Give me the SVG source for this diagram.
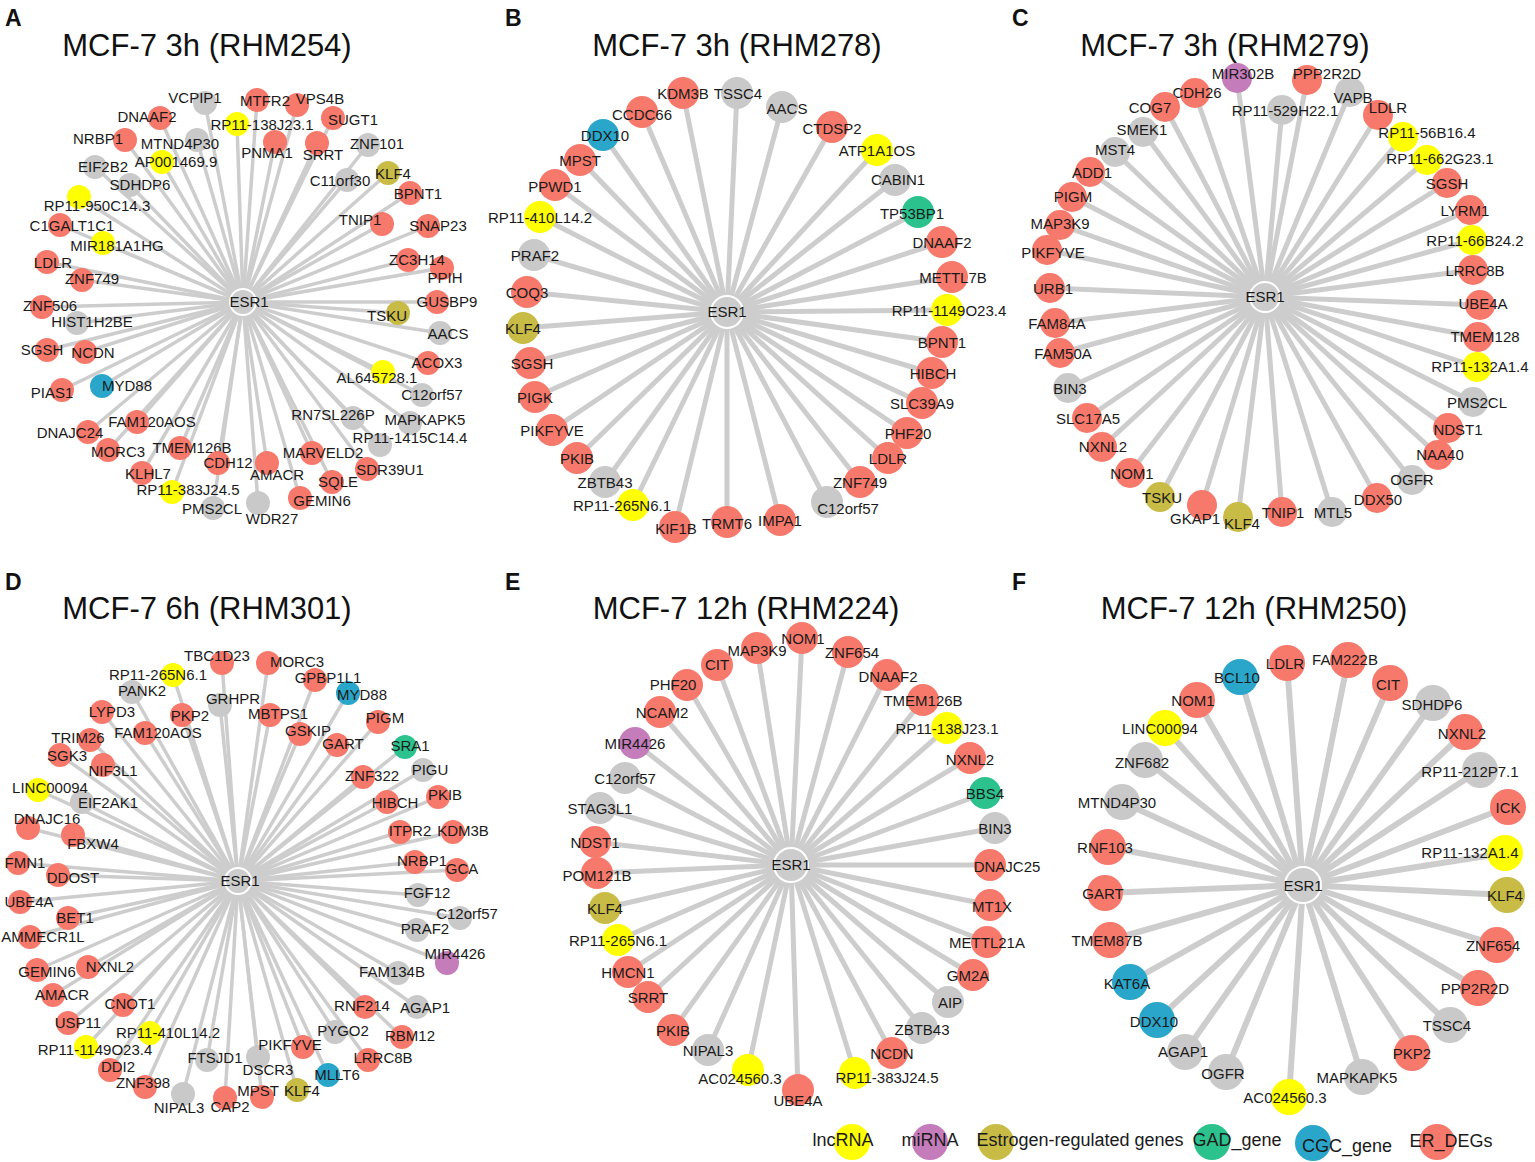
<svg xmlns="http://www.w3.org/2000/svg" width="1535" height="1162" viewBox="0 0 1535 1162">
<style>
text{font-family:"Liberation Sans",Arial,sans-serif;fill:#1a1a1a;text-anchor:middle;dominant-baseline:central;font-size:15px}
.r{fill:#F7796B}.g{fill:#C9C9C9}.y{fill:#FFFF00}.o{fill:#C8BC46}.n{fill:#2CC28E}.b{fill:#2AA6CA}.p{fill:#C47CBB}
.ctr{fill:#CCCCCC;stroke:#FFFFFF;stroke-width:2}
.e line{stroke:#CDCDCD;stroke-linecap:butt}
.t{font-size:31px;fill:#111;dominant-baseline:auto}
.L{font-size:23px;font-weight:bold;fill:#111;text-anchor:start;dominant-baseline:auto}
.lg{font-size:18px}
</style>
<rect width="1535" height="1162" fill="#FFFFFF"/>

<!-- Titles -->
<text class="L" x="5" y="26">A</text>
<text class="L" x="505" y="26">B</text>
<text class="L" x="1012" y="26">C</text>
<text class="L" x="5" y="590">D</text>
<text class="L" x="505" y="590">E</text>
<text class="L" x="1012" y="590">F</text>
<text class="t" x="207" y="56">MCF-7 3h (RHM254)</text>
<text class="t" x="737" y="56">MCF-7 3h (RHM278)</text>
<text class="t" x="1225" y="56">MCF-7 3h (RHM279)</text>
<text class="t" x="207" y="619">MCF-7 6h (RHM301)</text>
<text class="t" x="746" y="619">MCF-7 12h (RHM224)</text>
<text class="t" x="1254" y="619">MCF-7 12h (RHM250)</text>

<!-- Panel A -->
<g id="panelA">
<g id="a-edges" class="e" stroke-width="3.5">
<line x1="243" y1="302" x2="205" y2="103"/><line x1="243" y1="302" x2="257" y2="100"/><line x1="243" y1="302" x2="297" y2="105"/><line x1="243" y1="302" x2="160" y2="118"/><line x1="243" y1="302" x2="237" y2="124"/><line x1="243" y1="302" x2="333" y2="118"/><line x1="243" y1="302" x2="125" y2="140"/><line x1="243" y1="302" x2="197" y2="140"/><line x1="243" y1="302" x2="275" y2="142"/><line x1="243" y1="302" x2="317" y2="143"/><line x1="243" y1="302" x2="368" y2="145"/><line x1="243" y1="302" x2="95" y2="167"/><line x1="243" y1="302" x2="162" y2="162"/><line x1="243" y1="302" x2="130" y2="185"/><line x1="243" y1="302" x2="347" y2="180"/><line x1="243" y1="302" x2="388" y2="173"/><line x1="243" y1="302" x2="410" y2="193"/><line x1="243" y1="302" x2="79" y2="197"/><line x1="243" y1="302" x2="60" y2="225"/><line x1="243" y1="302" x2="382" y2="224"/><line x1="243" y1="302" x2="428" y2="226"/><line x1="243" y1="302" x2="103" y2="243"/><line x1="243" y1="302" x2="47" y2="262"/><line x1="243" y1="302" x2="408" y2="260"/><line x1="243" y1="302" x2="442" y2="268"/><line x1="243" y1="302" x2="82" y2="280"/><line x1="243" y1="302" x2="42" y2="307"/><line x1="243" y1="302" x2="77" y2="323"/><line x1="243" y1="302" x2="437" y2="302"/><line x1="243" y1="302" x2="398" y2="313"/><line x1="243" y1="302" x2="440" y2="333"/><line x1="243" y1="302" x2="47" y2="350"/><line x1="243" y1="302" x2="85" y2="352"/><line x1="243" y1="302" x2="428" y2="363"/><line x1="243" y1="302" x2="383" y2="372"/><line x1="243" y1="302" x2="62" y2="390"/><line x1="243" y1="302" x2="102" y2="386"/><line x1="243" y1="302" x2="422" y2="395"/><line x1="243" y1="302" x2="353" y2="418"/><line x1="243" y1="302" x2="410" y2="423"/><line x1="243" y1="302" x2="137" y2="422"/><line x1="243" y1="302" x2="88" y2="432"/><line x1="243" y1="302" x2="380" y2="445"/><line x1="243" y1="302" x2="108" y2="450"/><line x1="243" y1="302" x2="180" y2="448"/><line x1="243" y1="302" x2="312" y2="453"/><line x1="243" y1="302" x2="218" y2="463"/><line x1="243" y1="302" x2="267" y2="463"/><line x1="243" y1="302" x2="367" y2="469"/><line x1="243" y1="302" x2="142" y2="473"/><line x1="243" y1="302" x2="332" y2="482"/><line x1="243" y1="302" x2="172" y2="492"/><line x1="243" y1="302" x2="300" y2="498"/><line x1="243" y1="302" x2="213" y2="508"/><line x1="243" y1="302" x2="258" y2="503"/>
</g>
<g id="a-VCPIP1"><circle class="g" cx="205" cy="103" r="12"/><text x="195" y="97">VCPIP1</text></g>
<g id="a-VPS4B"><circle class="r" cx="297" cy="105" r="12"/><text x="320" y="98">VPS4B</text></g>
<g id="a-MTFR2"><circle class="r" cx="257" cy="100" r="12"/><text x="265" y="100">MTFR2</text></g>
<g id="a-DNAAF2"><circle class="r" cx="160" cy="118" r="12"/><text x="147" y="116">DNAAF2</text></g>
<g id="a-RP11-138J23.1"><circle class="y" cx="237" cy="124" r="12"/><text x="262" y="124">RP11-138J23.1</text></g>
<g id="a-SUGT1"><circle class="r" cx="333" cy="118" r="12"/><text x="353" y="119">SUGT1</text></g>
<g id="a-NRBP1"><circle class="r" cx="125" cy="140" r="12"/><text x="98" y="138">NRBP1</text></g>
<g id="a-MTND4P30"><circle class="g" cx="197" cy="140" r="12"/><text x="180" y="143">MTND4P30</text></g>
<g id="a-PNMA1"><circle class="r" cx="275" cy="142" r="12"/><text x="267" y="152">PNMA1</text></g>
<g id="a-SRRT"><circle class="r" cx="317" cy="143" r="12"/><text x="323" y="154">SRRT</text></g>
<g id="a-ZNF101"><circle class="g" cx="368" cy="145" r="12"/><text x="377" y="143">ZNF101</text></g>
<g id="a-EIF2B2"><circle class="g" cx="95" cy="167" r="12"/><text x="103" y="166">EIF2B2</text></g>
<g id="a-AP001469.9"><circle class="y" cx="162" cy="162" r="12"/><text x="176" y="161">AP001469.9</text></g>
<g id="a-SDHDP6"><circle class="g" cx="130" cy="185" r="12"/><text x="140" y="184">SDHDP6</text></g>
<g id="a-C11orf30"><circle class="g" cx="347" cy="180" r="12"/><text x="340" y="180">C11orf30</text></g>
<g id="a-KLF4"><circle class="o" cx="388" cy="173" r="12"/><text x="393" y="173">KLF4</text></g>
<g id="a-BPNT1"><circle class="r" cx="410" cy="193" r="12"/><text x="418" y="193">BPNT1</text></g>
<g id="a-RP11-950C14.3"><circle class="y" cx="79" cy="197" r="12"/><text x="97" y="205">RP11-950C14.3</text></g>
<g id="a-C1GALT1C1"><circle class="r" cx="60" cy="225" r="12"/><text x="72" y="225">C1GALT1C1</text></g>
<g id="a-TNIP1"><circle class="r" cx="382" cy="224" r="12"/><text x="360" y="219">TNIP1</text></g>
<g id="a-SNAP23"><circle class="r" cx="428" cy="226" r="12"/><text x="438" y="225">SNAP23</text></g>
<g id="a-MIR181A1HG"><circle class="y" cx="103" cy="243" r="12"/><text x="117" y="245">MIR181A1HG</text></g>
<g id="a-LDLR"><circle class="r" cx="47" cy="262" r="12"/><text x="53" y="262">LDLR</text></g>
<g id="a-PPIH"><circle class="r" cx="442" cy="268" r="12"/><text x="445" y="277">PPIH</text></g>
<g id="a-ZC3H14"><circle class="r" cx="408" cy="260" r="12"/><text x="417" y="259">ZC3H14</text></g>
<g id="a-ZNF749"><circle class="r" cx="82" cy="280" r="12"/><text x="92" y="278">ZNF749</text></g>
<g id="a-ZNF506"><circle class="r" cx="42" cy="307" r="12"/><text x="50" y="305">ZNF506</text></g>
<g id="a-HIST1H2BE"><circle class="g" cx="77" cy="323" r="12"/><text x="92" y="321">HIST1H2BE</text></g>
<g id="a-GUSBP9"><circle class="r" cx="437" cy="302" r="12"/><text x="447" y="301">GUSBP9</text></g>
<g id="a-TSKU"><circle class="o" cx="398" cy="313" r="12"/><text x="387" y="315">TSKU</text></g>
<g id="a-AACS"><circle class="g" cx="440" cy="333" r="12"/><text x="448" y="333">AACS</text></g>
<g id="a-SGSH"><circle class="r" cx="47" cy="350" r="12"/><text x="42" y="349">SGSH</text></g>
<g id="a-NCDN"><circle class="r" cx="85" cy="352" r="12"/><text x="93" y="352">NCDN</text></g>
<g id="a-ACOX3"><circle class="r" cx="428" cy="363" r="12"/><text x="437" y="362">ACOX3</text></g>
<g id="a-AL645728.1"><circle class="y" cx="383" cy="372" r="12"/><text x="377" y="377">AL645728.1</text></g>
<g id="a-PIAS1"><circle class="r" cx="62" cy="390" r="12"/><text x="52" y="392">PIAS1</text></g>
<g id="a-MYD88"><circle class="b" cx="102" cy="386" r="12"/><text x="127" y="385">MYD88</text></g>
<g id="a-C12orf57"><circle class="g" cx="422" cy="395" r="12"/><text x="432" y="394">C12orf57</text></g>
<g id="a-RN7SL226P"><circle class="g" cx="353" cy="418" r="12"/><text x="333" y="414">RN7SL226P</text></g>
<g id="a-MAPKAPK5"><circle class="g" cx="410" cy="423" r="12"/><text x="425" y="419">MAPKAPK5</text></g>
<g id="a-FAM120AOS"><circle class="r" cx="137" cy="422" r="12"/><text x="152" y="421">FAM120AOS</text></g>
<g id="a-DNAJC24"><circle class="r" cx="88" cy="432" r="12"/><text x="70" y="432">DNAJC24</text></g>
<g id="a-RP11-1415C14.4"><circle class="g" cx="380" cy="445" r="12"/><text x="410" y="437">RP11-1415C14.4</text></g>
<g id="a-MORC3"><circle class="r" cx="108" cy="450" r="12"/><text x="118" y="451">MORC3</text></g>
<g id="a-TMEM126B"><circle class="r" cx="180" cy="448" r="12"/><text x="192" y="447">TMEM126B</text></g>
<g id="a-MARVELD2"><circle class="r" cx="312" cy="453" r="12"/><text x="323" y="452">MARVELD2</text></g>
<g id="a-CDH12"><circle class="r" cx="218" cy="463" r="12"/><text x="228" y="462">CDH12</text></g>
<g id="a-AMACR"><circle class="r" cx="267" cy="463" r="12"/><text x="277" y="474">AMACR</text></g>
<g id="a-SDR39U1"><circle class="r" cx="367" cy="469" r="12"/><text x="390" y="469">SDR39U1</text></g>
<g id="a-KLHL7"><circle class="r" cx="142" cy="473" r="12"/><text x="148" y="473">KLHL7</text></g>
<g id="a-SQLE"><circle class="r" cx="332" cy="482" r="12"/><text x="338" y="481">SQLE</text></g>
<g id="a-RP11-383J24.5"><circle class="y" cx="172" cy="492" r="12"/><text x="188" y="489">RP11-383J24.5</text></g>
<g id="a-GEMIN6"><circle class="r" cx="300" cy="498" r="12"/><text x="322" y="500">GEMIN6</text></g>
<g id="a-PMS2CL"><circle class="g" cx="213" cy="508" r="12"/><text x="212" y="508">PMS2CL</text></g>
<g id="a-WDR27"><circle class="g" cx="258" cy="503" r="12"/><text x="272" y="518">WDR27</text></g>
<g id="a-ESR1"><circle class="ctr" cx="243" cy="302" r="13"/><text x="249" y="301">ESR1</text></g>
</g>

<!-- Panel B -->
<g id="panelB">
<g id="b-edges" class="e" stroke-width="5">
<line x1="727" y1="312" x2="683" y2="93"/><line x1="727" y1="312" x2="737" y2="93"/><line x1="727" y1="312" x2="782" y2="107"/><line x1="727" y1="312" x2="642" y2="112"/><line x1="727" y1="312" x2="832" y2="127"/><line x1="727" y1="312" x2="603" y2="135"/><line x1="727" y1="312" x2="877" y2="150"/><line x1="727" y1="312" x2="580" y2="160"/><line x1="727" y1="312" x2="895" y2="180"/><line x1="727" y1="312" x2="555" y2="185"/><line x1="727" y1="312" x2="540" y2="217"/><line x1="727" y1="312" x2="918" y2="212"/><line x1="727" y1="312" x2="942" y2="242"/><line x1="727" y1="312" x2="534" y2="255"/><line x1="727" y1="312" x2="952" y2="277"/><line x1="727" y1="312" x2="527" y2="292"/><line x1="727" y1="312" x2="947" y2="310"/><line x1="727" y1="312" x2="523" y2="328"/><line x1="727" y1="312" x2="942" y2="342"/><line x1="727" y1="312" x2="530" y2="363"/><line x1="727" y1="312" x2="932" y2="373"/><line x1="727" y1="312" x2="535" y2="397"/><line x1="727" y1="312" x2="922" y2="403"/><line x1="727" y1="312" x2="552" y2="430"/><line x1="727" y1="312" x2="907" y2="433"/><line x1="727" y1="312" x2="577" y2="458"/><line x1="727" y1="312" x2="888" y2="458"/><line x1="727" y1="312" x2="605" y2="482"/><line x1="727" y1="312" x2="860" y2="482"/><line x1="727" y1="312" x2="633" y2="505"/><line x1="727" y1="312" x2="827" y2="502"/><line x1="727" y1="312" x2="675" y2="527"/><line x1="727" y1="312" x2="727" y2="522"/><line x1="727" y1="312" x2="780" y2="520"/>
</g>
<g id="b-KDM3B"><circle class="r" cx="683" cy="93" r="16"/><text x="683" y="93">KDM3B</text></g>
<g id="b-TSSC4"><circle class="g" cx="737" cy="93" r="16"/><text x="738" y="93">TSSC4</text></g>
<g id="b-AACS"><circle class="g" cx="782" cy="107" r="16"/><text x="787" y="108">AACS</text></g>
<g id="b-CCDC66"><circle class="r" cx="642" cy="112" r="16"/><text x="642" y="114">CCDC66</text></g>
<g id="b-CTDSP2"><circle class="r" cx="832" cy="127" r="16"/><text x="832" y="128">CTDSP2</text></g>
<g id="b-DDX10"><circle class="b" cx="603" cy="135" r="16"/><text x="605" y="135">DDX10</text></g>
<g id="b-ATP1A1OS"><circle class="y" cx="877" cy="150" r="16"/><text x="877" y="150">ATP1A1OS</text></g>
<g id="b-MPST"><circle class="r" cx="580" cy="160" r="16"/><text x="580" y="160">MPST</text></g>
<g id="b-CABIN1"><circle class="g" cx="895" cy="180" r="16"/><text x="898" y="179">CABIN1</text></g>
<g id="b-PPWD1"><circle class="r" cx="555" cy="185" r="16"/><text x="555" y="186">PPWD1</text></g>
<g id="b-RP11-410L14.2"><circle class="y" cx="540" cy="217" r="16"/><text x="540" y="217">RP11-410L14.2</text></g>
<g id="b-TP53BP1"><circle class="n" cx="918" cy="212" r="16"/><text x="912" y="213">TP53BP1</text></g>
<g id="b-DNAAF2"><circle class="r" cx="942" cy="242" r="16"/><text x="942" y="242">DNAAF2</text></g>
<g id="b-PRAF2"><circle class="g" cx="534" cy="255" r="16"/><text x="535" y="255">PRAF2</text></g>
<g id="b-METTL7B"><circle class="r" cx="952" cy="277" r="16"/><text x="953" y="277">METTL7B</text></g>
<g id="b-COQ3"><circle class="r" cx="527" cy="292" r="16"/><text x="527" y="292">COQ3</text></g>
<g id="b-RP11-1149O23.4"><circle class="y" cx="947" cy="310" r="16"/><text x="949" y="310">RP11-1149O23.4</text></g>
<g id="b-KLF4"><circle class="o" cx="523" cy="328" r="16"/><text x="523" y="328">KLF4</text></g>
<g id="b-BPNT1"><circle class="r" cx="942" cy="342" r="16"/><text x="942" y="342">BPNT1</text></g>
<g id="b-SGSH"><circle class="r" cx="530" cy="363" r="16"/><text x="532" y="363">SGSH</text></g>
<g id="b-HIBCH"><circle class="r" cx="932" cy="373" r="16"/><text x="933" y="373">HIBCH</text></g>
<g id="b-PIGK"><circle class="r" cx="535" cy="397" r="16"/><text x="535" y="397">PIGK</text></g>
<g id="b-SLC39A9"><circle class="r" cx="922" cy="403" r="16"/><text x="922" y="403">SLC39A9</text></g>
<g id="b-PIKFYVE"><circle class="r" cx="552" cy="430" r="16"/><text x="552" y="430">PIKFYVE</text></g>
<g id="b-PHF20"><circle class="r" cx="907" cy="433" r="16"/><text x="908" y="433">PHF20</text></g>
<g id="b-PKIB"><circle class="r" cx="577" cy="458" r="16"/><text x="577" y="458">PKIB</text></g>
<g id="b-LDLR"><circle class="r" cx="888" cy="458" r="16"/><text x="888" y="458">LDLR</text></g>
<g id="b-ZBTB43"><circle class="g" cx="605" cy="482" r="16"/><text x="605" y="482">ZBTB43</text></g>
<g id="b-ZNF749"><circle class="r" cx="860" cy="482" r="16"/><text x="860" y="482">ZNF749</text></g>
<g id="b-RP11-265N6.1"><circle class="y" cx="633" cy="505" r="16"/><text x="622" y="505">RP11-265N6.1</text></g>
<g id="b-C12orf57"><circle class="g" cx="827" cy="502" r="16"/><text x="848" y="508">C12orf57</text></g>
<g id="b-KIF1B"><circle class="r" cx="675" cy="527" r="16"/><text x="676" y="528">KIF1B</text></g>
<g id="b-TRMT6"><circle class="r" cx="727" cy="522" r="16"/><text x="727" y="523">TRMT6</text></g>
<g id="b-IMPA1"><circle class="r" cx="780" cy="520" r="16"/><text x="780" y="520">IMPA1</text></g>
<g id="b-ESR1"><circle class="ctr" cx="727" cy="312" r="16"/><text x="727" y="311">ESR1</text></g>
</g>

<!-- Panel C -->
<g id="panelC">
<g id="c-edges" class="e" stroke-width="5">
<line x1="1265" y1="297" x2="1237" y2="78"/><line x1="1265" y1="297" x2="1307" y2="80"/><line x1="1265" y1="297" x2="1195" y2="93"/><line x1="1265" y1="297" x2="1350" y2="92"/><line x1="1265" y1="297" x2="1165" y2="107"/><line x1="1265" y1="297" x2="1282" y2="110"/><line x1="1265" y1="297" x2="1378" y2="115"/><line x1="1265" y1="297" x2="1143" y2="132"/><line x1="1265" y1="297" x2="1403" y2="137"/><line x1="1265" y1="297" x2="1115" y2="152"/><line x1="1265" y1="297" x2="1427" y2="160"/><line x1="1265" y1="297" x2="1090" y2="172"/><line x1="1265" y1="297" x2="1447" y2="183"/><line x1="1265" y1="297" x2="1072" y2="197"/><line x1="1265" y1="297" x2="1470" y2="210"/><line x1="1265" y1="297" x2="1060" y2="225"/><line x1="1265" y1="297" x2="1472" y2="240"/><line x1="1265" y1="297" x2="1047" y2="250"/><line x1="1265" y1="297" x2="1473" y2="270"/><line x1="1265" y1="297" x2="1050" y2="288"/><line x1="1265" y1="297" x2="1480" y2="305"/><line x1="1265" y1="297" x2="1055" y2="323"/><line x1="1265" y1="297" x2="1478" y2="337"/><line x1="1265" y1="297" x2="1060" y2="353"/><line x1="1265" y1="297" x2="1477" y2="367"/><line x1="1265" y1="297" x2="1068" y2="388"/><line x1="1265" y1="297" x2="1473" y2="402"/><line x1="1265" y1="297" x2="1087" y2="418"/><line x1="1265" y1="297" x2="1448" y2="428"/><line x1="1265" y1="297" x2="1102" y2="447"/><line x1="1265" y1="297" x2="1438" y2="455"/><line x1="1265" y1="297" x2="1130" y2="473"/><line x1="1265" y1="297" x2="1412" y2="480"/><line x1="1265" y1="297" x2="1160" y2="497"/><line x1="1265" y1="297" x2="1377" y2="498"/><line x1="1265" y1="297" x2="1202" y2="505"/><line x1="1265" y1="297" x2="1238" y2="517"/><line x1="1265" y1="297" x2="1282" y2="512"/><line x1="1265" y1="297" x2="1332" y2="512"/>
</g>
<g id="c-MIR302B"><circle class="p" cx="1237" cy="78" r="15"/><text x="1243" y="73">MIR302B</text></g>
<g id="c-VAPB"><circle class="g" cx="1350" cy="92" r="15"/><text x="1353" y="97">VAPB</text></g>
<g id="c-PPP2R2D"><circle class="r" cx="1307" cy="80" r="15"/><text x="1327" y="73">PPP2R2D</text></g>
<g id="c-CDH26"><circle class="r" cx="1195" cy="93" r="15"/><text x="1197" y="92">CDH26</text></g>
<g id="c-COG7"><circle class="r" cx="1165" cy="107" r="15"/><text x="1150" y="107">COG7</text></g>
<g id="c-RP11-529H22.1"><circle class="g" cx="1282" cy="110" r="15"/><text x="1285" y="110">RP11-529H22.1</text></g>
<g id="c-LDLR"><circle class="r" cx="1378" cy="115" r="15"/><text x="1388" y="107">LDLR</text></g>
<g id="c-SMEK1"><circle class="g" cx="1143" cy="132" r="15"/><text x="1142" y="129">SMEK1</text></g>
<g id="c-RP11-56B16.4"><circle class="y" cx="1403" cy="137" r="15"/><text x="1427" y="132">RP11-56B16.4</text></g>
<g id="c-MST4"><circle class="g" cx="1115" cy="152" r="15"/><text x="1115" y="149">MST4</text></g>
<g id="c-RP11-662G23.1"><circle class="y" cx="1427" cy="160" r="15"/><text x="1440" y="158">RP11-662G23.1</text></g>
<g id="c-ADD1"><circle class="r" cx="1090" cy="172" r="15"/><text x="1092" y="172">ADD1</text></g>
<g id="c-SGSH"><circle class="r" cx="1447" cy="183" r="15"/><text x="1447" y="183">SGSH</text></g>
<g id="c-PIGM"><circle class="r" cx="1072" cy="197" r="15"/><text x="1073" y="196">PIGM</text></g>
<g id="c-LYRM1"><circle class="r" cx="1470" cy="210" r="15"/><text x="1465" y="210">LYRM1</text></g>
<g id="c-MAP3K9"><circle class="r" cx="1060" cy="225" r="15"/><text x="1060" y="223">MAP3K9</text></g>
<g id="c-RP11-66B24.2"><circle class="y" cx="1472" cy="240" r="15"/><text x="1475" y="240">RP11-66B24.2</text></g>
<g id="c-PIKFYVE"><circle class="r" cx="1047" cy="250" r="15"/><text x="1053" y="252">PIKFYVE</text></g>
<g id="c-LRRC8B"><circle class="r" cx="1473" cy="270" r="15"/><text x="1475" y="270">LRRC8B</text></g>
<g id="c-URB1"><circle class="r" cx="1050" cy="288" r="15"/><text x="1053" y="288">URB1</text></g>
<g id="c-UBE4A"><circle class="r" cx="1480" cy="305" r="15"/><text x="1483" y="303">UBE4A</text></g>
<g id="c-FAM84A"><circle class="r" cx="1055" cy="323" r="15"/><text x="1057" y="323">FAM84A</text></g>
<g id="c-TMEM128"><circle class="r" cx="1478" cy="337" r="15"/><text x="1485" y="336">TMEM128</text></g>
<g id="c-FAM50A"><circle class="r" cx="1060" cy="353" r="15"/><text x="1063" y="353">FAM50A</text></g>
<g id="c-RP11-132A1.4"><circle class="y" cx="1477" cy="367" r="15"/><text x="1480" y="366">RP11-132A1.4</text></g>
<g id="c-BIN3"><circle class="g" cx="1068" cy="388" r="15"/><text x="1070" y="388">BIN3</text></g>
<g id="c-PMS2CL"><circle class="g" cx="1473" cy="402" r="15"/><text x="1477" y="402">PMS2CL</text></g>
<g id="c-SLC17A5"><circle class="r" cx="1087" cy="418" r="15"/><text x="1088" y="418">SLC17A5</text></g>
<g id="c-NDST1"><circle class="r" cx="1448" cy="428" r="15"/><text x="1458" y="429">NDST1</text></g>
<g id="c-NXNL2"><circle class="r" cx="1102" cy="447" r="15"/><text x="1103" y="446">NXNL2</text></g>
<g id="c-NAA40"><circle class="r" cx="1438" cy="455" r="15"/><text x="1440" y="454">NAA40</text></g>
<g id="c-NOM1"><circle class="r" cx="1130" cy="473" r="15"/><text x="1132" y="473">NOM1</text></g>
<g id="c-OGFR"><circle class="g" cx="1412" cy="480" r="15"/><text x="1412" y="479">OGFR</text></g>
<g id="c-TSKU"><circle class="o" cx="1160" cy="497" r="15"/><text x="1162" y="497">TSKU</text></g>
<g id="c-DDX50"><circle class="r" cx="1377" cy="498" r="15"/><text x="1378" y="499">DDX50</text></g>
<g id="c-GKAP1"><circle class="r" cx="1202" cy="505" r="15"/><text x="1195" y="518">GKAP1</text></g>
<g id="c-KLF4"><circle class="o" cx="1238" cy="517" r="15"/><text x="1242" y="523">KLF4</text></g>
<g id="c-TNIP1"><circle class="r" cx="1282" cy="512" r="15"/><text x="1283" y="512">TNIP1</text></g>
<g id="c-MTL5"><circle class="g" cx="1332" cy="512" r="15"/><text x="1333" y="512">MTL5</text></g>
<g id="c-ESR1"><circle class="ctr" cx="1265" cy="297" r="15"/><text x="1265" y="296">ESR1</text></g>
</g>

<!-- Panel D -->
<g id="panelD">
<g id="d-edges" class="e" stroke-width="3.5">
<line x1="238" y1="881" x2="222" y2="663"/><line x1="238" y1="881" x2="268" y2="663"/><line x1="238" y1="881" x2="173" y2="675"/><line x1="238" y1="881" x2="315" y2="680"/><line x1="238" y1="881" x2="132" y2="692"/><line x1="238" y1="881" x2="348" y2="693"/><line x1="238" y1="881" x2="220" y2="705"/><line x1="238" y1="881" x2="102" y2="712"/><line x1="238" y1="881" x2="182" y2="715"/><line x1="238" y1="881" x2="270" y2="715"/><line x1="238" y1="881" x2="378" y2="722"/><line x1="238" y1="881" x2="145" y2="733"/><line x1="238" y1="881" x2="300" y2="734"/><line x1="238" y1="881" x2="90" y2="740"/><line x1="238" y1="881" x2="337" y2="745"/><line x1="238" y1="881" x2="405" y2="747"/><line x1="238" y1="881" x2="60" y2="755"/><line x1="238" y1="881" x2="103" y2="765"/><line x1="238" y1="881" x2="363" y2="777"/><line x1="238" y1="881" x2="423" y2="770"/><line x1="238" y1="881" x2="38" y2="790"/><line x1="238" y1="881" x2="82" y2="802"/><line x1="238" y1="881" x2="387" y2="802"/><line x1="238" y1="881" x2="438" y2="797"/><line x1="238" y1="881" x2="28" y2="828"/><line x1="238" y1="881" x2="73" y2="835"/><line x1="238" y1="881" x2="400" y2="832"/><line x1="238" y1="881" x2="453" y2="832"/><line x1="238" y1="881" x2="18" y2="863"/><line x1="238" y1="881" x2="415" y2="862"/><line x1="238" y1="881" x2="457" y2="870"/><line x1="238" y1="881" x2="58" y2="875"/><line x1="238" y1="881" x2="20" y2="902"/><line x1="238" y1="881" x2="418" y2="895"/><line x1="238" y1="881" x2="68" y2="918"/><line x1="238" y1="881" x2="460" y2="918"/><line x1="238" y1="881" x2="30" y2="937"/><line x1="238" y1="881" x2="417" y2="930"/><line x1="238" y1="881" x2="447" y2="963"/><line x1="238" y1="881" x2="37" y2="970"/><line x1="238" y1="881" x2="88" y2="967"/><line x1="238" y1="881" x2="398" y2="973"/><line x1="238" y1="881" x2="53" y2="995"/><line x1="238" y1="881" x2="123" y2="1005"/><line x1="238" y1="881" x2="365" y2="1007"/><line x1="238" y1="881" x2="417" y2="1007"/><line x1="238" y1="881" x2="68" y2="1023"/><line x1="238" y1="881" x2="150" y2="1033"/><line x1="238" y1="881" x2="335" y2="1032"/><line x1="238" y1="881" x2="402" y2="1037"/><line x1="238" y1="881" x2="86" y2="1047"/><line x1="238" y1="881" x2="303" y2="1047"/><line x1="238" y1="881" x2="207" y2="1060"/><line x1="238" y1="881" x2="258" y2="1057"/><line x1="238" y1="881" x2="368" y2="1060"/><line x1="238" y1="881" x2="328" y2="1075"/><line x1="238" y1="881" x2="110" y2="1070"/><line x1="238" y1="881" x2="145" y2="1087"/><line x1="238" y1="881" x2="183" y2="1094"/><line x1="238" y1="881" x2="225" y2="1098"/><line x1="238" y1="881" x2="262" y2="1097"/><line x1="238" y1="881" x2="297" y2="1090"/>
</g>
<g id="d-TBC1D23"><circle class="r" cx="222" cy="663" r="12"/><text x="217" y="655">TBC1D23</text></g>
<g id="d-MORC3"><circle class="r" cx="268" cy="663" r="12"/><text x="297" y="661">MORC3</text></g>
<g id="d-RP11-265N6.1"><circle class="y" cx="173" cy="675" r="12"/><text x="158" y="674">RP11-265N6.1</text></g>
<g id="d-MYD88"><circle class="b" cx="348" cy="693" r="12"/><text x="362" y="694">MYD88</text></g>
<g id="d-GPBP1L1"><circle class="r" cx="315" cy="680" r="12"/><text x="328" y="677">GPBP1L1</text></g>
<g id="d-PANK2"><circle class="g" cx="132" cy="692" r="12"/><text x="142" y="690">PANK2</text></g>
<g id="d-GRHPR"><circle class="g" cx="220" cy="705" r="12"/><text x="233" y="698">GRHPR</text></g>
<g id="d-LYPD3"><circle class="r" cx="102" cy="712" r="12"/><text x="112" y="711">LYPD3</text></g>
<g id="d-PKP2"><circle class="r" cx="182" cy="715" r="12"/><text x="190" y="715">PKP2</text></g>
<g id="d-MBTPS1"><circle class="r" cx="270" cy="715" r="12"/><text x="278" y="713">MBTPS1</text></g>
<g id="d-PIGM"><circle class="r" cx="378" cy="722" r="12"/><text x="385" y="717">PIGM</text></g>
<g id="d-FAM120AOS"><circle class="r" cx="145" cy="733" r="12"/><text x="158" y="732">FAM120AOS</text></g>
<g id="d-GSKIP"><circle class="r" cx="300" cy="734" r="12"/><text x="308" y="730">GSKIP</text></g>
<g id="d-TRIM26"><circle class="r" cx="90" cy="740" r="12"/><text x="78" y="737">TRIM26</text></g>
<g id="d-GART"><circle class="r" cx="337" cy="745" r="12"/><text x="343" y="743">GART</text></g>
<g id="d-SRA1"><circle class="n" cx="405" cy="747" r="12"/><text x="410" y="745">SRA1</text></g>
<g id="d-SGK3"><circle class="r" cx="60" cy="755" r="12"/><text x="67" y="755">SGK3</text></g>
<g id="d-NIF3L1"><circle class="r" cx="103" cy="765" r="12"/><text x="113" y="770">NIF3L1</text></g>
<g id="d-ZNF322"><circle class="r" cx="363" cy="777" r="12"/><text x="372" y="775">ZNF322</text></g>
<g id="d-PIGU"><circle class="g" cx="423" cy="770" r="12"/><text x="430" y="769">PIGU</text></g>
<g id="d-EIF2AK1"><circle class="g" cx="82" cy="802" r="12"/><text x="108" y="802">EIF2AK1</text></g>
<g id="d-LINC00094"><circle class="y" cx="38" cy="790" r="12"/><text x="50" y="787">LINC00094</text></g>
<g id="d-HIBCH"><circle class="r" cx="387" cy="802" r="12"/><text x="395" y="802">HIBCH</text></g>
<g id="d-PKIB"><circle class="r" cx="438" cy="797" r="12"/><text x="445" y="794">PKIB</text></g>
<g id="d-DNAJC16"><circle class="r" cx="28" cy="828" r="12"/><text x="47" y="818">DNAJC16</text></g>
<g id="d-FBXW4"><circle class="r" cx="73" cy="835" r="12"/><text x="93" y="843">FBXW4</text></g>
<g id="d-ITPR2"><circle class="r" cx="400" cy="832" r="12"/><text x="410" y="830">ITPR2</text></g>
<g id="d-KDM3B"><circle class="r" cx="453" cy="832" r="12"/><text x="463" y="830">KDM3B</text></g>
<g id="d-FMN1"><circle class="r" cx="18" cy="863" r="12"/><text x="25" y="862">FMN1</text></g>
<g id="d-NRBP1"><circle class="r" cx="415" cy="862" r="12"/><text x="422" y="860">NRBP1</text></g>
<g id="d-GCA"><circle class="r" cx="457" cy="870" r="12"/><text x="462" y="868">GCA</text></g>
<g id="d-DDOST"><circle class="r" cx="58" cy="875" r="12"/><text x="73" y="877">DDOST</text></g>
<g id="d-UBE4A"><circle class="r" cx="20" cy="902" r="12"/><text x="29" y="901">UBE4A</text></g>
<g id="d-FGF12"><circle class="g" cx="418" cy="895" r="12"/><text x="427" y="892">FGF12</text></g>
<g id="d-BET1"><circle class="r" cx="68" cy="918" r="12"/><text x="75" y="917">BET1</text></g>
<g id="d-C12orf57"><circle class="g" cx="460" cy="918" r="12"/><text x="467" y="913">C12orf57</text></g>
<g id="d-AMMECR1L"><circle class="r" cx="30" cy="937" r="12"/><text x="43" y="936">AMMECR1L</text></g>
<g id="d-PRAF2"><circle class="g" cx="417" cy="930" r="12"/><text x="425" y="928">PRAF2</text></g>
<g id="d-MIR4426"><circle class="p" cx="447" cy="963" r="12"/><text x="455" y="953">MIR4426</text></g>
<g id="d-GEMIN6"><circle class="r" cx="37" cy="970" r="12"/><text x="47" y="971">GEMIN6</text></g>
<g id="d-NXNL2"><circle class="r" cx="88" cy="967" r="12"/><text x="110" y="966">NXNL2</text></g>
<g id="d-FAM134B"><circle class="g" cx="398" cy="973" r="12"/><text x="392" y="971">FAM134B</text></g>
<g id="d-AMACR"><circle class="r" cx="53" cy="995" r="12"/><text x="62" y="994">AMACR</text></g>
<g id="d-CNOT1"><circle class="r" cx="123" cy="1005" r="12"/><text x="130" y="1003">CNOT1</text></g>
<g id="d-RNF214"><circle class="r" cx="365" cy="1007" r="12"/><text x="362" y="1005">RNF214</text></g>
<g id="d-AGAP1"><circle class="g" cx="417" cy="1007" r="12"/><text x="425" y="1007">AGAP1</text></g>
<g id="d-USP11"><circle class="r" cx="68" cy="1023" r="12"/><text x="78" y="1022">USP11</text></g>
<g id="d-RP11-410L14.2"><circle class="y" cx="150" cy="1033" r="12"/><text x="168" y="1032">RP11-410L14.2</text></g>
<g id="d-PYGO2"><circle class="g" cx="335" cy="1032" r="12"/><text x="343" y="1030">PYGO2</text></g>
<g id="d-RBM12"><circle class="r" cx="402" cy="1037" r="12"/><text x="410" y="1035">RBM12</text></g>
<g id="d-RP11-1149O23.4"><circle class="y" cx="86" cy="1047" r="12"/><text x="95" y="1049">RP11-1149O23.4</text></g>
<g id="d-DSCR3"><circle class="g" cx="258" cy="1057" r="12"/><text x="268" y="1069">DSCR3</text></g>
<g id="d-PIKFYVE"><circle class="r" cx="303" cy="1047" r="12"/><text x="290" y="1044">PIKFYVE</text></g>
<g id="d-FTSJD1"><circle class="g" cx="207" cy="1060" r="12"/><text x="215" y="1057">FTSJD1</text></g>
<g id="d-LRRC8B"><circle class="r" cx="368" cy="1060" r="12"/><text x="383" y="1057">LRRC8B</text></g>
<g id="d-MLLT6"><circle class="b" cx="328" cy="1075" r="12"/><text x="337" y="1074">MLLT6</text></g>
<g id="d-DDI2"><circle class="r" cx="110" cy="1070" r="12"/><text x="118" y="1066">DDI2</text></g>
<g id="d-ZNF398"><circle class="r" cx="145" cy="1087" r="12"/><text x="143" y="1082">ZNF398</text></g>
<g id="d-NIPAL3"><circle class="g" cx="183" cy="1094" r="12"/><text x="179" y="1107">NIPAL3</text></g>
<g id="d-CAP2"><circle class="r" cx="225" cy="1098" r="12"/><text x="230" y="1106">CAP2</text></g>
<g id="d-MPST"><circle class="r" cx="262" cy="1097" r="12"/><text x="258" y="1090">MPST</text></g>
<g id="d-KLF4"><circle class="o" cx="297" cy="1090" r="12"/><text x="302" y="1090">KLF4</text></g>
<g id="d-ESR1"><circle class="ctr" cx="238" cy="881" r="13"/><text x="240" y="880">ESR1</text></g>
</g>

<!-- Panel E -->
<g id="panelE">
<g id="e-edges" class="e" stroke-width="5">
<line x1="791" y1="865" x2="802" y2="638"/><line x1="791" y1="865" x2="757" y2="648"/><line x1="791" y1="865" x2="848" y2="652"/><line x1="791" y1="865" x2="717" y2="665"/><line x1="791" y1="865" x2="887" y2="675"/><line x1="791" y1="865" x2="687" y2="685"/><line x1="791" y1="865" x2="923" y2="700"/><line x1="791" y1="865" x2="660" y2="712"/><line x1="791" y1="865" x2="947" y2="728"/><line x1="791" y1="865" x2="635" y2="743"/><line x1="791" y1="865" x2="970" y2="758"/><line x1="791" y1="865" x2="625" y2="778"/><line x1="791" y1="865" x2="985" y2="793"/><line x1="791" y1="865" x2="600" y2="808"/><line x1="791" y1="865" x2="995" y2="828"/><line x1="791" y1="865" x2="595" y2="842"/><line x1="791" y1="865" x2="990" y2="865"/><line x1="791" y1="865" x2="597" y2="873"/><line x1="791" y1="865" x2="605" y2="908"/><line x1="791" y1="865" x2="990" y2="905"/><line x1="791" y1="865" x2="618" y2="940"/><line x1="791" y1="865" x2="987" y2="942"/><line x1="791" y1="865" x2="628" y2="972"/><line x1="791" y1="865" x2="973" y2="975"/><line x1="791" y1="865" x2="648" y2="997"/><line x1="791" y1="865" x2="948" y2="1002"/><line x1="791" y1="865" x2="673" y2="1030"/><line x1="791" y1="865" x2="922" y2="1028"/><line x1="791" y1="865" x2="708" y2="1050"/><line x1="791" y1="865" x2="892" y2="1053"/><line x1="791" y1="865" x2="748" y2="1070"/><line x1="791" y1="865" x2="855" y2="1073"/><line x1="791" y1="865" x2="798" y2="1090"/>
</g>
<g id="e-NOM1"><circle class="r" cx="802" cy="638" r="16"/><text x="803" y="638">NOM1</text></g>
<g id="e-MAP3K9"><circle class="r" cx="757" cy="648" r="16"/><text x="757" y="650">MAP3K9</text></g>
<g id="e-ZNF654"><circle class="r" cx="848" cy="652" r="16"/><text x="852" y="652">ZNF654</text></g>
<g id="e-CIT"><circle class="r" cx="717" cy="665" r="16"/><text x="717" y="664">CIT</text></g>
<g id="e-DNAAF2"><circle class="r" cx="887" cy="675" r="16"/><text x="888" y="676">DNAAF2</text></g>
<g id="e-PHF20"><circle class="r" cx="687" cy="685" r="16"/><text x="673" y="684">PHF20</text></g>
<g id="e-TMEM126B"><circle class="r" cx="923" cy="700" r="16"/><text x="923" y="700">TMEM126B</text></g>
<g id="e-NCAM2"><circle class="r" cx="660" cy="712" r="16"/><text x="662" y="712">NCAM2</text></g>
<g id="e-RP11-138J23.1"><circle class="y" cx="947" cy="728" r="16"/><text x="947" y="728">RP11-138J23.1</text></g>
<g id="e-MIR4426"><circle class="p" cx="635" cy="743" r="16"/><text x="635" y="743">MIR4426</text></g>
<g id="e-NXNL2"><circle class="r" cx="970" cy="758" r="16"/><text x="970" y="759">NXNL2</text></g>
<g id="e-C12orf57"><circle class="g" cx="625" cy="778" r="16"/><text x="625" y="778">C12orf57</text></g>
<g id="e-BBS4"><circle class="n" cx="985" cy="793" r="16"/><text x="985" y="793">BBS4</text></g>
<g id="e-STAG3L1"><circle class="g" cx="600" cy="808" r="16"/><text x="600" y="808">STAG3L1</text></g>
<g id="e-BIN3"><circle class="g" cx="995" cy="828" r="16"/><text x="995" y="828">BIN3</text></g>
<g id="e-NDST1"><circle class="r" cx="595" cy="842" r="16"/><text x="595" y="842">NDST1</text></g>
<g id="e-DNAJC25"><circle class="r" cx="990" cy="865" r="16"/><text x="1007" y="866">DNAJC25</text></g>
<g id="e-POM121B"><circle class="r" cx="597" cy="873" r="16"/><text x="597" y="875">POM121B</text></g>
<g id="e-KLF4"><circle class="o" cx="605" cy="908" r="16"/><text x="605" y="908">KLF4</text></g>
<g id="e-MT1X"><circle class="r" cx="990" cy="905" r="16"/><text x="992" y="906">MT1X</text></g>
<g id="e-RP11-265N6.1"><circle class="y" cx="618" cy="940" r="16"/><text x="618" y="940">RP11-265N6.1</text></g>
<g id="e-METTL21A"><circle class="r" cx="987" cy="942" r="16"/><text x="987" y="942">METTL21A</text></g>
<g id="e-HMCN1"><circle class="r" cx="628" cy="972" r="16"/><text x="628" y="972">HMCN1</text></g>
<g id="e-GM2A"><circle class="r" cx="973" cy="975" r="16"/><text x="968" y="975">GM2A</text></g>
<g id="e-SRRT"><circle class="r" cx="648" cy="997" r="16"/><text x="648" y="997">SRRT</text></g>
<g id="e-AIP"><circle class="g" cx="948" cy="1002" r="16"/><text x="950" y="1002">AIP</text></g>
<g id="e-PKIB"><circle class="r" cx="673" cy="1030" r="16"/><text x="673" y="1030">PKIB</text></g>
<g id="e-ZBTB43"><circle class="g" cx="922" cy="1028" r="16"/><text x="922" y="1029">ZBTB43</text></g>
<g id="e-NIPAL3"><circle class="g" cx="708" cy="1050" r="16"/><text x="708" y="1050">NIPAL3</text></g>
<g id="e-NCDN"><circle class="r" cx="892" cy="1053" r="16"/><text x="892" y="1053">NCDN</text></g>
<g id="e-AC024560.3"><circle class="y" cx="748" cy="1070" r="16"/><text x="740" y="1078">AC024560.3</text></g>
<g id="e-RP11-383J24.5"><circle class="y" cx="855" cy="1073" r="16"/><text x="887" y="1077">RP11-383J24.5</text></g>
<g id="e-UBE4A"><circle class="r" cx="798" cy="1090" r="16"/><text x="798" y="1100">UBE4A</text></g>
<g id="e-ESR1"><circle class="ctr" cx="791" cy="865" r="17"/><text x="791" y="864">ESR1</text></g>
</g>

<!-- Panel F -->
<g id="panelF">
<g id="f-edges" class="e" stroke-width="6">
<line x1="1303" y1="885" x2="1287" y2="663"/><line x1="1303" y1="885" x2="1348" y2="660"/><line x1="1303" y1="885" x2="1240" y2="677"/><line x1="1303" y1="885" x2="1390" y2="683"/><line x1="1303" y1="885" x2="1197" y2="700"/><line x1="1303" y1="885" x2="1433" y2="703"/><line x1="1303" y1="885" x2="1165" y2="728"/><line x1="1303" y1="885" x2="1465" y2="732"/><line x1="1303" y1="885" x2="1145" y2="760"/><line x1="1303" y1="885" x2="1480" y2="770"/><line x1="1303" y1="885" x2="1122" y2="802"/><line x1="1303" y1="885" x2="1508" y2="807"/><line x1="1303" y1="885" x2="1108" y2="847"/><line x1="1303" y1="885" x2="1505" y2="853"/><line x1="1303" y1="885" x2="1105" y2="893"/><line x1="1303" y1="885" x2="1507" y2="895"/><line x1="1303" y1="885" x2="1110" y2="940"/><line x1="1303" y1="885" x2="1497" y2="945"/><line x1="1303" y1="885" x2="1130" y2="982"/><line x1="1303" y1="885" x2="1478" y2="988"/><line x1="1303" y1="885" x2="1157" y2="1020"/><line x1="1303" y1="885" x2="1450" y2="1025"/><line x1="1303" y1="885" x2="1185" y2="1052"/><line x1="1303" y1="885" x2="1412" y2="1053"/><line x1="1303" y1="885" x2="1226" y2="1072"/><line x1="1303" y1="885" x2="1362" y2="1077"/><line x1="1303" y1="885" x2="1289" y2="1097"/>
</g>
<g id="f-LDLR"><circle class="r" cx="1287" cy="663" r="18"/><text x="1285" y="663">LDLR</text></g>
<g id="f-FAM222B"><circle class="r" cx="1348" cy="660" r="18"/><text x="1345" y="659">FAM222B</text></g>
<g id="f-BCL10"><circle class="b" cx="1240" cy="677" r="18"/><text x="1237" y="677">BCL10</text></g>
<g id="f-CIT"><circle class="r" cx="1390" cy="683" r="18"/><text x="1388" y="684">CIT</text></g>
<g id="f-NOM1"><circle class="r" cx="1197" cy="700" r="18"/><text x="1193" y="700">NOM1</text></g>
<g id="f-SDHDP6"><circle class="g" cx="1433" cy="703" r="18"/><text x="1432" y="704">SDHDP6</text></g>
<g id="f-LINC00094"><circle class="y" cx="1165" cy="728" r="18"/><text x="1160" y="728">LINC00094</text></g>
<g id="f-NXNL2"><circle class="r" cx="1465" cy="732" r="18"/><text x="1462" y="733">NXNL2</text></g>
<g id="f-ZNF682"><circle class="g" cx="1145" cy="760" r="18"/><text x="1142" y="762">ZNF682</text></g>
<g id="f-RP11-212P7.1"><circle class="g" cx="1480" cy="770" r="18"/><text x="1470" y="771">RP11-212P7.1</text></g>
<g id="f-MTND4P30"><circle class="g" cx="1122" cy="802" r="18"/><text x="1117" y="802">MTND4P30</text></g>
<g id="f-ICK"><circle class="r" cx="1508" cy="807" r="18"/><text x="1508" y="807">ICK</text></g>
<g id="f-RNF103"><circle class="r" cx="1108" cy="847" r="18"/><text x="1105" y="847">RNF103</text></g>
<g id="f-RP11-132A1.4"><circle class="y" cx="1505" cy="853" r="18"/><text x="1470" y="852">RP11-132A1.4</text></g>
<g id="f-GART"><circle class="r" cx="1105" cy="893" r="18"/><text x="1103" y="893">GART</text></g>
<g id="f-KLF4"><circle class="o" cx="1507" cy="895" r="18"/><text x="1505" y="895">KLF4</text></g>
<g id="f-TMEM87B"><circle class="r" cx="1110" cy="940" r="18"/><text x="1107" y="940">TMEM87B</text></g>
<g id="f-ZNF654"><circle class="r" cx="1497" cy="945" r="18"/><text x="1493" y="945">ZNF654</text></g>
<g id="f-KAT6A"><circle class="b" cx="1130" cy="982" r="18"/><text x="1127" y="983">KAT6A</text></g>
<g id="f-PPP2R2D"><circle class="r" cx="1478" cy="988" r="18"/><text x="1475" y="988">PPP2R2D</text></g>
<g id="f-DDX10"><circle class="b" cx="1157" cy="1020" r="18"/><text x="1154" y="1021">DDX10</text></g>
<g id="f-TSSC4"><circle class="g" cx="1450" cy="1025" r="18"/><text x="1447" y="1025">TSSC4</text></g>
<g id="f-AGAP1"><circle class="g" cx="1185" cy="1052" r="18"/><text x="1183" y="1051">AGAP1</text></g>
<g id="f-PKP2"><circle class="r" cx="1412" cy="1053" r="18"/><text x="1412" y="1053">PKP2</text></g>
<g id="f-OGFR"><circle class="g" cx="1226" cy="1072" r="18"/><text x="1223" y="1073">OGFR</text></g>
<g id="f-MAPKAPK5"><circle class="g" cx="1362" cy="1077" r="18"/><text x="1357" y="1077">MAPKAPK5</text></g>
<g id="f-AC024560.3"><circle class="y" cx="1289" cy="1097" r="18"/><text x="1285" y="1097">AC024560.3</text></g>
<g id="f-ESR1"><circle class="ctr" cx="1303" cy="885" r="18"/><text x="1303" y="885">ESR1</text></g>
</g>

<!-- Legend -->
<g id="legend">
<g id="lg-lncRNA"><circle class="y" cx="852" cy="1142" r="18"/><text class="lg" x="843" y="1140">lncRNA</text></g>
<g id="lg-miRNA"><circle class="p" cx="930" cy="1142" r="18"/><text class="lg" x="930" y="1140">miRNA</text></g>
<g id="lg-estrogen"><circle class="o" cx="996" cy="1142" r="18"/><text class="lg" x="1080" y="1140">Estrogen-regulated genes</text></g>
<g id="lg-GAD"><circle class="n" cx="1212" cy="1142" r="18"/><text class="lg" x="1237" y="1140">GAD_gene</text></g>
<g id="lg-CGC"><circle class="b" cx="1313" cy="1143" r="18"/><text class="lg" x="1347" y="1146">CGC_gene</text></g>
<g id="lg-ER"><circle class="r" cx="1437" cy="1142" r="18"/><text class="lg" x="1451" y="1141">ER_DEGs</text></g>
</g>
</svg>
